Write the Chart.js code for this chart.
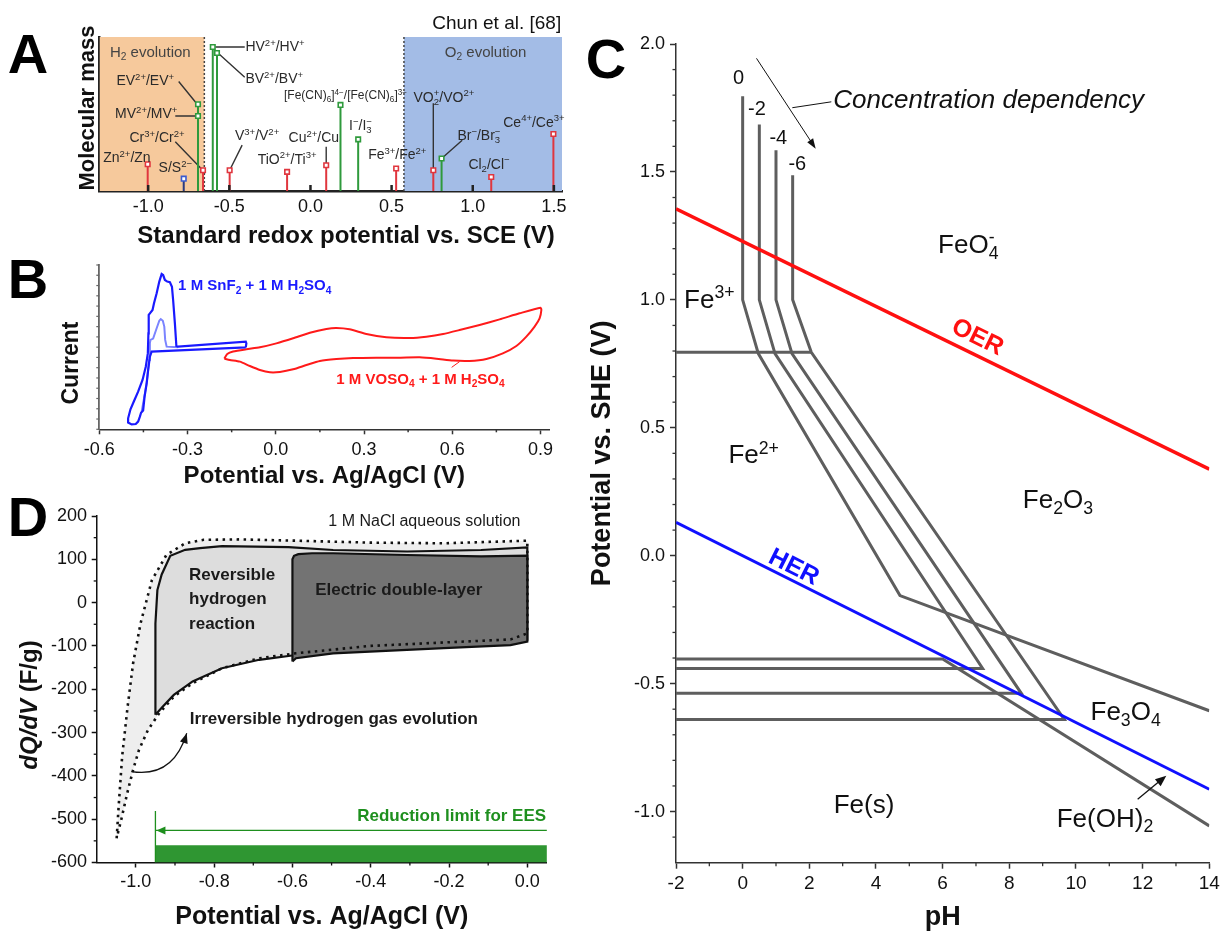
<!DOCTYPE html>
<html>
<head>
<meta charset="utf-8">
<title>Redox windows</title>
<script src="https://cdn.jsdelivr.net/npm/chart.js@4.4.1/dist/chart.umd.min.js"></script>
<style>
  html, body { margin: 0; padding: 0; background: #fff; overflow: hidden; }
  #page { position: relative; width: 1221px; height: 931px; }
  #page canvas { position: absolute; }
</style>
</head>
<body>
<div id="page">
  <canvas id="chartA" width="580" height="255" style="left:0;top:0"></canvas>
  <canvas id="chartB" width="580" height="235" style="left:0;top:255px"></canvas>
  <canvas id="chartD" width="580" height="441" style="left:0;top:490px"></canvas>
  <canvas id="chartC" width="641" height="931" style="left:580px;top:0"></canvas>
</div>
<script>
const FONT = "'Liberation Sans', Arial, Helvetica, sans-serif";
Chart.defaults.font.family = FONT;
Chart.defaults.color = '#111';

// ---- Panel A : redox couples vs molecular mass ----
const aTicks = [-1.0, -0.5, 0.0, 0.5, 1.0, 1.5];
const aH2Zone = [-1.3, -0.654];
const aO2Zone = [0.576, 1.55];
const aZoneMass = [0, 100];
const aRedV = [-1.003, -0.662, -0.498, -0.144, 0.097, 0.528, 0.757, 1.114, 1.497];
const aRedMass = [17.4, 13.5, 13.5, 12.4, 16.7, 14.6, 13.5, 9.1, 37.0];
const aGreenV = [-0.693, -0.693, -0.602, -0.576, 0.185, 0.294, 0.808];
const aGreenMass = [48.7, 56.3, 93.5, 89.6, 55.9, 33.5, 21.1];
const aBlueV = [-0.781];
const aBlueMass = [8.0];

// ---- Panel B : cyclic voltammograms ----
const bTicks = [-0.6, -0.3, 0.0, 0.3, 0.6, 0.9];
const bMinor = [-0.45, -0.15, 0.15, 0.45, 0.75];
const bCurrentTicks = [0, 6.25, 12.5, 18.75, 25, 31.25, 37.5, 43.75, 50, 56.25, 62.5, 68.75, 75, 81.25, 87.5, 93.75, 100];
const bSnV = [-0.102, -0.422, -0.428, -0.434, -0.439, -0.446, -0.451, -0.458, -0.462, -0.468, -0.476, -0.490, -0.502, -0.502, -0.494, -0.483, -0.468, -0.453, -0.442, -0.435, -0.433, -0.432, -0.426, -0.419, -0.414, -0.405, -0.396, -0.388, -0.383, -0.377, -0.369, -0.360, -0.353, -0.349, -0.343, -0.338, -0.332, -0.102, -0.100, -0.102];
const bSnI = [49.9, 47.3, 44.2, 36.1, 28.0, 19.9, 11.4, 10.1, 7.7, 4.7, 3.2, 3.0, 4.1, 6.7, 12.2, 16.8, 22.9, 30.0, 38.1, 46.2, 58.4, 69.6, 71.0, 72.6, 76.7, 82.8, 89.9, 94.5, 93.9, 90.9, 89.9, 89.5, 86.8, 78.7, 64.5, 50.7, 50.3, 53.3, 52.3, 49.9];
const bSn2V = [-0.456, -0.449, -0.439, -0.430, -0.428, -0.426, -0.417, -0.405, -0.396, -0.391, -0.384, -0.379, -0.376, -0.371, -0.332];
const bSn2I = [10.8, 17.8, 28.0, 42.2, 52.3, 54.4, 55.2, 61.5, 66.1, 67.1, 66.1, 62.5, 54.4, 50.3, 49.9];
const bVoV = [-0.175, -0.165, -0.145, -0.100, -0.054, 0.002, 0.059, 0.116, 0.172, 0.206, 0.251, 0.308, 0.376, 0.455, 0.512, 0.569, 0.625, 0.693, 0.761, 0.829, 0.900, 0.903, 0.897, 0.880, 0.852, 0.818, 0.772, 0.716, 0.659, 0.603, 0.546, 0.489, 0.421, 0.342, 0.263, 0.206, 0.150, 0.104, 0.059, 0.014, -0.020, -0.054, -0.088, -0.122, -0.156, -0.175];
const bVoI = [43.0, 45.8, 47.3, 48.7, 49.9, 52.3, 55.4, 58.8, 61.1, 61.7, 60.9, 58.0, 56.0, 55.6, 56.4, 58.0, 60.4, 63.5, 66.9, 70.6, 74.0, 72.6, 67.5, 62.5, 56.4, 50.7, 46.2, 42.8, 41.6, 41.8, 43.0, 43.8, 43.6, 43.6, 43.4, 42.8, 41.6, 39.1, 36.5, 34.9, 34.7, 36.1, 38.5, 41.2, 42.2, 43.0];

// ---- Panel C : Pourbaix diagram of iron ----
const cTicksX = [-2, 0, 2, 4, 6, 8, 10, 12, 14];
const cMinorX = [-1, 1, 3, 5, 7, 9, 11, 13];
const cTicksY = [-1.0, -0.5, 0.0, 0.5, 1.0, 1.5, 2.0];
const cMinorY = [-1.1, -0.9, -0.8, -0.7, -0.6, -0.4, -0.3, -0.2, -0.1, 0.1, 0.2, 0.3, 0.4, 0.6, 0.7, 0.8, 0.9, 1.1, 1.2, 1.3, 1.4, 1.6, 1.7, 1.8, 1.9];
const cOerPH = [-2, 14], cOerE = [1.356, 0.338];
const cHerPH = [-2, 14], cHerE = [0.130, -0.913];
const cConc0PH = [0, 0, 0.47, 4.72, 14], cConc0E = [1.796, 1.0, 0.79, -0.156, -0.606];
const cConc2PH = [0.5, 0.5, 0.97, 7.2, -2], cConc2E = [1.685, 1.0, 0.79, -0.441, -0.441];
const cConc4PH = [1.0, 1.0, 1.48, 8.36, -2], cConc4E = [1.585, 1.0, 0.79, -0.538, -0.538];
const cConc6PH = [1.5, 1.5, 2.06, 9.65, -2], cConc6E = [1.487, 1.0, 0.795, -0.640, -0.640];
const cFe32PH = [-2, 2.06], cFe32E = [0.795, 0.795];
const cFeSolidPH = [-2, 6.0, 14], cFeSolidE = [-0.404, -0.404, -1.056];

// ---- Panel D : capacitance of carbon electrode in NaCl ----
const dTicksX = [-1.0, -0.8, -0.6, -0.4, -0.2, 0.0];
const dMinorX = [-0.9, -0.7, -0.5, -0.3, -0.1];
const dTicksY = [-600, -500, -400, -300, -200, -100, 0, 100, 200];
const dMinorY = [-550, -450, -350, -250, -150, -50, 50, 150];
const dOuterV = [-1.049, -1.044, -1.035, -1.021, -1.007, -0.988, -0.959, -0.922, -0.874, -0.827, -0.733, -0.591, -0.402, -0.213, 0.0, 0.0, -0.043, -0.213, -0.402, -0.591, -0.685, -0.780, -0.855, -0.903, -0.940, -0.969, -0.992, -1.007, -1.022, -1.037, -1.049];
const dOuterQ = [-544, -471, -355, -240, -140, -48, 52, 110, 137, 145, 146, 143, 138.5, 137, 143, -71, -85, -92, -100, -117, -128.5, -151.5, -186, -217, -255, -294, -340, -386, -440, -500, -544];
const dRevV = [-0.950, -0.950, -0.945, -0.934, -0.912, -0.874, -0.836, -0.78, -0.61, -0.496, -0.307, -0.118, 0.0, 0.0, -0.043, -0.213, -0.402, -0.591, -0.685, -0.78, -0.855, -0.903, -0.931, -0.950];
const dRevQ = [-259, -48, 29, 65, 108, 122, 126, 130.5, 128, 121.5, 118, 121.5, 127.5, -86, -95, -101.5, -108, -121, -132, -151.5, -182, -213, -240, -259];
const dEdlV = [-0.600, -0.600, -0.596, -0.585, -0.55, -0.496, -0.307, -0.118, 0.0, 0.0, -0.043, -0.213, -0.402, -0.496, -0.591, -0.600];
const dEdlQ = [-136, 100, 108, 112, 114, 114, 110, 107, 108.5, -90, -98, -105, -113, -117, -128.5, -136];
const dLimitBarV = [-0.95, 0.05], dLimitBarQ = [-600, -560];
const dLimitLineV = [-0.95, -0.95], dLimitLineQ = [-600, -481];
const dLimitArrowV = [0.05, -0.95], dLimitArrowQ = [-526, -526];

// ---------- helpers ----------
function zip(xs, ys) { return xs.map((x, i) => ({ x: x, y: ys[i] })); }
function box(xr, yr) {
    return [{x: xr[0], y: yr[0]}, {x: xr[1], y: yr[0]}, {x: xr[1], y: yr[1]}, {x: xr[0], y: yr[1]}, {x: xr[0], y: yr[0]}];
}
function stems(xs, ys) {
    const d = [];
    xs.forEach((x, i) => d.push({x: x, y: 0}, {x: x, y: ys[i]}, {x: x, y: null}));
    return d;
}
function segments(list) {
    const d = [];
    list.forEach(s => d.push({x: s[0], y: s[1]}, {x: s[2], y: s[3]}, {x: s[2], y: null}));
    return d;
}
function line(data, color, width, extra) {
    return Object.assign({
        data: data, showLine: true, borderColor: color, borderWidth: width,
        pointRadius: 0, pointHoverRadius: 0, fill: false, tension: 0, spanGaps: false
    }, extra || {});
}

function axis(o) {
    return {
        type: 'linear', position: o.pos, min: o.min, max: o.max,
        afterBuildTicks: s => { s.ticks = o.ticks.map(v => ({ value: v })); },
        afterFit: s => {
            if (o.pos === 'bottom') { s.height = o.size; s.paddingLeft = 0; s.paddingRight = 0; }
            else { s.width = o.size; s.paddingTop = 0; s.paddingBottom = 0; }
        },
        border: { display: true, color: o.color || '#222', width: o.bw || 1.5 },
        grid: { display: true, drawOnChartArea: false, drawTicks: !!o.tickLen, tickLength: o.tickLen || 0,
                tickColor: o.color || '#222', tickWidth: o.bw || 1.5 },
        ticks: { display: !!o.fmt, autoSkip: false, maxRotation: 0, padding: o.pad || 4, color: '#111',
                 font: { size: o.fs || 18 }, callback: o.fmt || (v => v) },
        title: o.title ? { display: true, text: o.title, color: '#111',
                           font: { size: o.tfs, weight: 'bold', lineHeight: 1 }, padding: o.tpad } : { display: false }
    };
}

function baseOptions(pad, x, y) {
    return {
        responsive: false, animation: false, events: [],
        layout: { padding: pad },
        plugins: { legend: { display: false }, tooltip: { enabled: false } },
        scales: { x: x, y: y }
    };
}

// text with ^{sup} and _{sub}
function parseRich(str) {
    const out = [];
    let buf = '', i = 0;
    while (i < str.length) {
        const c = str[i];
        if (c === '^' || c === '_') {
            if (buf) { out.push({ t: buf, m: 'n' }); buf = ''; }
            let t;
            if (str[i + 1] === '{') { const j = str.indexOf('}', i + 2); t = str.slice(i + 2, j); i = j + 1; }
            else { t = str[i + 1]; i += 2; }
            out.push({ t: t, m: c === '^' ? 'sup' : 'sub' });
        } else { buf += c; i++; }
    }
    if (buf) out.push({ t: buf, m: 'n' });
    return out;
}

function drawRich(ctx, str, x, y, o) {
    const size = o.size || 14;
    const f = s => (o.style || 'normal') + ' ' + (o.weight || 'normal') + ' ' + s + 'px ' + FONT;
    const small = size * 0.68;
    const placed = [];
    let w = 0, prev = null;
    parseRich(str).forEach(s => {
        ctx.font = f(s.m === 'n' ? size : small);
        const sw = ctx.measureText(s.t).width;
        let sx = w;
        if (s.m === 'sup' && prev && prev.m === 'sub') { sx = prev.x; w = Math.max(prev.x + prev.w, sx + sw); }
        else w = sx + sw;
        prev = { t: s.t, m: s.m, x: sx, w: sw };
        placed.push(prev);
    });
    ctx.save();
    ctx.translate(x, y);
    if (o.rotate) ctx.rotate(o.rotate);
    const align = o.align || 'center';
    const x0 = align === 'left' ? 0 : (align === 'right' ? -w : -w / 2);
    ctx.fillStyle = o.color || '#111';
    ctx.textAlign = 'left';
    ctx.textBaseline = 'alphabetic';
    placed.forEach(p => {
        ctx.font = f(p.m === 'n' ? size : small);
        const dy = p.m === 'sup' ? -size * 0.38 : (p.m === 'sub' ? size * 0.22 : 0);
        ctx.fillText(p.t, x0 + p.x, size * 0.36 + dy);
    });
    ctx.restore();
}

function arrow(ctx, x1, y1, x2, y2, color, lw, hl, hw) {
    const a = Math.atan2(y2 - y1, x2 - x1);
    ctx.save();
    ctx.strokeStyle = color; ctx.fillStyle = color; ctx.lineWidth = lw;
    ctx.beginPath(); ctx.moveTo(x1, y1); ctx.lineTo(x2 - Math.cos(a) * hl * 0.7, y2 - Math.sin(a) * hl * 0.7); ctx.stroke();
    arrowHead(ctx, x2, y2, a, hl, hw);
    ctx.restore();
}
function arrowHead(ctx, x, y, a, hl, hw) {
    ctx.beginPath();
    ctx.moveTo(x, y);
    ctx.lineTo(x - hl * Math.cos(a) + hw * Math.sin(a), y - hl * Math.sin(a) - hw * Math.cos(a));
    ctx.lineTo(x - hl * Math.cos(a) - hw * Math.sin(a), y - hl * Math.sin(a) + hw * Math.cos(a));
    ctx.closePath();
    ctx.fill();
}

function minorTicks(chart, id, vals, len, color, width) {
    const s = chart.scales[id], ctx = chart.ctx;
    ctx.save();
    ctx.strokeStyle = color; ctx.lineWidth = width;
    vals.forEach(v => {
        const p = s.getPixelForValue(v);
        ctx.beginPath();
        if (s.isHorizontal()) { ctx.moveTo(p, s.top); ctx.lineTo(p, s.top + len); }
        else { ctx.moveTo(s.right, p); ctx.lineTo(s.right - len, p); }
        ctx.stroke();
    });
    ctx.restore();
}

function letter(ctx, t, x, y) {
    ctx.save();
    ctx.font = "bold 56px 'Liberation Sans Narrow', 'Liberation Sans', Arial, sans-serif";
    ctx.fillStyle = '#000';
    ctx.textAlign = 'center';
    ctx.textBaseline = 'middle';
    ctx.fillText(t, x, y);
    ctx.restore();
}

const fmt1 = v => Number(v).toFixed(1);

// ---------- Panel A ----------
const aCouples = [
    ['Zn^{2+}/Zn', -1.131, 22.2, 'center'],
    ['S/S^{2−}', -0.833, 15.7, 'center'],
    ['Cr^{3+}/Cr^{2+}', -0.946, 35.2, 'center'],
    ['MV^{2+}/MV^{+}', -1.012, 50.4, 'center'],
    ['EV^{2+}/EV^{+}', -1.018, 72.2, 'center'],
    ['HV^{2+}/HV^{+}', -0.401, 93.9, 'left'],
    ['BV^{2+}/BV^{+}', -0.401, 73.3, 'left'],
    ['V^{3+}/V^{2+}', -0.329, 36.3, 'center'],
    ['TiO^{2+}/Ti^{3+}', -0.144, 21.1, 'center'],
    ['Cu^{2+}/Cu', 0.021, 35.2, 'center'],
    ['I^{−}/I_3^{−}', 0.308, 42.8, 'center'],
    ['Fe^{3+}/Fe^{2+}', 0.535, 23.9, 'center'],
    ['VO_2^{+}/VO^{2+}', 0.822, 61.3, 'center'],
    ['Br^{−}/Br_3^{−}', 1.038, 36.3, 'center'],
    ['Cl_2/Cl^{−}', 1.100, 17.8, 'center'],
    ['Ce^{4+}/Ce^{3+}', 1.377, 45.0, 'center']
];
const aLeaders = [
    [-0.812, 71.1, -0.699, 56.5], [-0.833, 48.7, -0.699, 48.7], [-0.833, 32.0, -0.668, 13.9],
    [-0.586, 93.5, -0.405, 93.5], [-0.565, 89.1, -0.405, 73.9], [-0.498, 13.5, -0.421, 29.8],
    [0.097, 28.7, 0.097, 17.4], [0.757, 57.0, 0.757, 14.6], [0.808, 21.1, 0.935, 33.0]
];

const panelA = {
    id: 'panelA',
    afterDraw(chart) {
        const ctx = chart.ctx, xs = chart.scales.x, ys = chart.scales.y;
        minorTicks(chart, 'x', aTicks, -6, '#222', 2.5);
        const P = (v, m) => [xs.getPixelForValue(v), ys.getPixelForValue(m)];
        aCouples.forEach(c => {
            const p = P(c[1], c[2]);
            drawRich(ctx, c[0], p[0], p[1], { size: 14, align: c[3], color: '#2a2a2a' });
        });
        let p = P(0.216, 62.4);
        drawRich(ctx, '[Fe(CN)_6]^{4−}/[Fe(CN)_6]^{3−}', p[0], p[1], { size: 12, color: '#2a2a2a' });
        p = P(-0.987, 90.7);
        drawRich(ctx, 'H_2 evolution', p[0], p[1], { size: 15, color: '#444' });
        p = P(1.079, 90.7);
        drawRich(ctx, 'O_2 evolution', p[0], p[1], { size: 15, color: '#444' });
        p = P(1.545, 109.5);
        drawRich(ctx, 'Chun et al. [68]', p[0], p[1], { size: 19, align: 'right', color: '#111' });
        // axis titles
        drawRich(ctx, 'Standard redox potential vs. SCE (V)', 346, 234, { size: 24, weight: 'bold' });
        drawRich(ctx, 'Molecular mass', 86, 108, { size: 22, weight: 'bold', rotate: -Math.PI / 2 });
        letter(ctx, 'A', 28, 58);
    }
};

new Chart(document.getElementById('chartA'), {
    type: 'scatter',
    data: {
        datasets: [
            line(box(aH2Zone, aZoneMass), 'rgba(0,0,0,0)', 0, { fill: 'shape', backgroundColor: '#f6c99c', order: 20 }),
            line(box(aO2Zone, aZoneMass), 'rgba(0,0,0,0)', 0, { fill: 'shape', backgroundColor: '#a3bce6', order: 20 }),
            line(segments([[aH2Zone[1], 0, aH2Zone[1], 100], [aO2Zone[0], 0, aO2Zone[0], 100]]), '#444', 1.5, { borderDash: [2, 2], order: 15 }),
            line(segments(aLeaders), '#333', 1.4, { order: 12 }),
            line(stems(aRedV, aRedMass), '#e0363e', 2, { order: 10 }),
            line(stems(aGreenV, aGreenMass), '#2f9a3c', 2, { order: 10 }),
            line(stems(aBlueV, aBlueMass), '#2a3a80', 2, { order: 10 }),
            { data: zip(aRedV, aRedMass), pointStyle: 'rect', pointRadius: 3.2, pointBorderWidth: 1.6,
              pointBackgroundColor: '#fff', pointBorderColor: '#e0363e', order: 5 },
            { data: zip(aGreenV, aGreenMass), pointStyle: 'rect', pointRadius: 3.2, pointBorderWidth: 1.6,
              pointBackgroundColor: '#fff', pointBorderColor: '#2f9a3c', order: 5 },
            { data: zip(aBlueV, aBlueMass), pointStyle: 'rect', pointRadius: 3.2, pointBorderWidth: 1.6,
              pointBackgroundColor: '#fff', pointBorderColor: '#3a5ad0', order: 5 }
        ]
    },
    options: baseOptions({ left: 0, top: 37, right: 18, bottom: 0 },
        axis({ pos: 'bottom', min: -1.3, max: 1.55, ticks: aTicks, size: 64, pad: 5, bw: 2.5, fmt: fmt1 }),
        axis({ pos: 'left', min: 0, max: 100, ticks: [], size: 99.5, bw: 2.5 })),
    plugins: [panelA]
});

// ---------- Panel B ----------
const panelB = {
    id: 'panelB',
    afterDraw(chart) {
        const ctx = chart.ctx, xs = chart.scales.x, ys = chart.scales.y;
        minorTicks(chart, 'x', bMinor, 3, '#333', 1.5);
        minorTicks(chart, 'y', bCurrentTicks, 3, '#666', 1.2);
        drawRich(ctx, '1 M SnF_2 + 1 M H_2SO_4', xs.getPixelForValue(-0.332), ys.getPixelForValue(87.8),
                 { size: 15, weight: 'bold', align: 'left', color: '#1a1aff' });
        drawRich(ctx, '1 M VOSO_4 + 1 M H_2SO_4', xs.getPixelForValue(0.206), ys.getPixelForValue(31.0),
                 { size: 15, weight: 'bold', align: 'left', color: '#ff1a1a' });
        ctx.save();
        ctx.strokeStyle = '#ff1a1a'; ctx.lineWidth = 1;
        ctx.beginPath();
        ctx.moveTo(xs.getPixelForValue(0.598), ys.getPixelForValue(37.7));
        ctx.lineTo(xs.getPixelForValue(0.625), ys.getPixelForValue(41.2));
        ctx.stroke();
        ctx.restore();
        drawRich(ctx, 'Current', 70, 108, { size: 23, weight: 'bold', rotate: -Math.PI / 2 });
        letter(ctx, 'B', 28, 28);
    }
};

new Chart(document.getElementById('chartB'), {
    type: 'scatter',
    data: {
        datasets: [
            line(zip(bVoV, bVoI), '#ff1a1a', 2, { tension: 0.2, order: 3 }),
            line(zip(bSn2V, bSn2I), '#7b84ff', 2, { order: 2 }),
            line(zip(bSnV, bSnI), '#1a1aff', 2.2, { order: 1 })
        ]
    },
    options: baseOptions({ left: 0, top: 10, right: 30.7, bottom: 0 },
        axis({ pos: 'bottom', min: -0.6, max: 0.93, ticks: bTicks, size: 60.7, pad: 4.9, tickLen: 5, bw: 1.5,
               color: '#333', fmt: fmt1, title: 'Potential vs. Ag/AgCl (V)', tfs: 24, tpad: { top: 0, bottom: 1.3 } }),
        axis({ pos: 'left', min: 0, max: 100, ticks: [], size: 99.3, bw: 1.8, color: '#666' })),
    plugins: [panelB]
});

// ---------- Panel C ----------
const cRegions = [
    ['0', -0.12, 1.872, 20], ['-2', 0.43, 1.752, 20], ['-4', 1.07, 1.637, 20], ['-6', 1.64, 1.535, 20],
    ['FeO_4^{-}', 6.77, 1.219, 26], ['Fe^{3+}', -1.0, 1.004, 26], ['Fe^{2+}', 0.33, 0.397, 26],
    ['Fe_2O_3', 9.46, 0.222, 26], ['Fe_3O_4', 11.49, -0.606, 26], ['Fe(s)', 3.64, -0.971, 26],
    ['Fe(OH)_2', 10.87, -1.023, 26]
];

const panelC = {
    id: 'panelC',
    afterDraw(chart) {
        const ctx = chart.ctx, xs = chart.scales.x, ys = chart.scales.y;
        const X = v => xs.getPixelForValue(v), Y = v => ys.getPixelForValue(v);
        minorTicks(chart, 'x', cMinorX, 3.5, '#333', 1.3);
        minorTicks(chart, 'y', cMinorY, 3.5, '#333', 1.3);
        cRegions.forEach(r => drawRich(ctx, r[0], X(r[1]), Y(r[2]), { size: r[3], color: '#111' }));
        drawRich(ctx, 'Concentration dependency', X(2.72), Y(1.787), { size: 26, style: 'italic', align: 'left' });
        ctx.save();
        ctx.strokeStyle = '#111'; ctx.lineWidth = 1;
        ctx.beginPath(); ctx.moveTo(X(1.49), Y(1.751)); ctx.lineTo(X(2.66), Y(1.774)); ctx.stroke();
        ctx.restore();
        arrow(ctx, X(0.415), Y(1.944), X(2.19), Y(1.591), '#111', 1, 10, 3.5);
        arrow(ctx, X(11.85), Y(-0.952), X(12.71), Y(-0.860), '#111', 1.3, 11, 4.5);
        const oer = Math.atan2(Y(cOerE[1]) - Y(cOerE[0]), X(cOerPH[1]) - X(cOerPH[0]));
        drawRich(ctx, 'OER', X(7.07), Y(0.860), { size: 25, weight: 'bold', color: '#ff1010', rotate: oer });
        const her = Math.atan2(Y(cHerE[1]) - Y(cHerE[0]), X(cHerPH[1]) - X(cHerPH[0]));
        drawRich(ctx, 'HER', X(1.56), Y(-0.039), { size: 25, weight: 'bold', color: '#1010ff', rotate: her });
        letter(ctx, 'C', 26, 63);
    }
};

const grayLine = '#5e5e5e';
new Chart(document.getElementById('chartC'), {
    type: 'scatter',
    data: {
        datasets: [
            line(zip(cFe32PH, cFe32E), grayLine, 3, { order: 5 }),
            line(zip(cFeSolidPH, cFeSolidE), grayLine, 3, { order: 5 }),
            line(zip(cConc0PH, cConc0E), grayLine, 3, { order: 5 }),
            line(zip(cConc2PH, cConc2E), grayLine, 3, { order: 5 }),
            line(zip(cConc4PH, cConc4E), grayLine, 3, { order: 5 }),
            line(zip(cConc6PH, cConc6E), grayLine, 3, { order: 5 }),
            line(zip(cOerPH, cOerE), '#ff1010', 3.5, { order: 1 }),
            line(zip(cHerPH, cHerE), '#1010ff', 3, { order: 1 })
        ]
    },
    options: baseOptions({ left: 0, top: 44, right: 11.7, bottom: 0 },
        axis({ pos: 'bottom', min: -2, max: 14, ticks: cTicksX, size: 68.3, pad: 3.2, tickLen: 6, bw: 1.5,
               color: '#333', fs: 19, fmt: v => String(v), title: 'pH', tfs: 27, tpad: { top: 0, bottom: 0 } }),
        axis({ pos: 'left', min: -1.2, max: 2.0, ticks: cTicksY, size: 96, pad: 5, tickLen: 6, bw: 1.5,
               color: '#333', fs: 18, fmt: fmt1, title: 'Potential vs. SHE (V)', tfs: 27, tpad: { top: 9.5, bottom: 0 } })),
    plugins: [panelC]
});

// ---------- Panel D ----------
const dNotes = [
    ['1 M NaCl aqueous solution', -0.263, 190.8, 'center', 'normal', 16],
    ['Reversible', -0.864, 66, 'left', 'bold', 17],
    ['hydrogen', -0.864, 10, 'left', 'bold', 17],
    ['reaction', -0.864, -46.4, 'left', 'bold', 17],
    ['Electric double-layer', -0.542, 30.8, 'left', 'bold', 17],
    ['Irreversible hydrogen gas evolution', -0.862, -265.7, 'left', 'bold', 17]
];

const panelD = {
    id: 'panelD',
    afterDraw(chart) {
        const ctx = chart.ctx, xs = chart.scales.x, ys = chart.scales.y;
        const X = v => xs.getPixelForValue(v), Y = v => ys.getPixelForValue(v);
        minorTicks(chart, 'x', dMinorX, 3, '#111', 1.3);
        minorTicks(chart, 'y', dMinorY, 3, '#111', 1.3);
        dNotes.forEach(n => drawRich(ctx, n[0], X(n[1]), Y(n[2]), { size: n[5], weight: n[4], align: n[3], color: '#1a1a1a' }));
        drawRich(ctx, 'Reduction limit for EES', X(0.048), Y(-490), { size: 17, weight: 'bold', align: 'right', color: '#1e8f1e' });
        // arrow head of the reduction limit
        ctx.save();
        ctx.fillStyle = '#1e8f1e';
        arrowHead(ctx, X(dLimitArrowV[1]) + 1, Y(dLimitArrowQ[1]), Math.PI, 9, 4);
        ctx.restore();
        // curved arrow towards the gas evolution label
        const sx = X(-1.011), sy = Y(-390), cx = X(-0.905), cy = Y(-405), ex = X(-0.870), ey = Y(-301.5);
        ctx.save();
        ctx.strokeStyle = '#111'; ctx.fillStyle = '#111'; ctx.lineWidth = 1.2;
        ctx.beginPath(); ctx.moveTo(sx, sy); ctx.quadraticCurveTo(cx, cy, ex, ey); ctx.stroke();
        arrowHead(ctx, ex, ey, Math.atan2(ey - cy, ex - cx), 10, 4);
        ctx.restore();
        // y title with italic dQ/dV
        ctx.save();
        ctx.translate(30, 215);
        ctx.rotate(-Math.PI / 2);
        ctx.fillStyle = '#111';
        ctx.textBaseline = 'middle';
        ctx.font = 'italic bold 24px ' + FONT;
        const w1 = ctx.measureText('dQ/dV').width;
        ctx.font = 'bold 24px ' + FONT;
        const w2 = ctx.measureText(' (F/g)').width;
        ctx.font = 'italic bold 24px ' + FONT;
        ctx.fillText('dQ/dV', -(w1 + w2) / 2, 0);
        ctx.font = 'bold 24px ' + FONT;
        ctx.fillText(' (F/g)', -(w1 + w2) / 2 + w1, 0);
        ctx.restore();
        letter(ctx, 'D', 28, 31);
    }
};

new Chart(document.getElementById('chartD'), {
    type: 'scatter',
    data: {
        datasets: [
            line(zip(dOuterV, dOuterQ), 'rgba(0,0,0,0)', 0, { fill: 'shape', backgroundColor: '#eeeeee', order: 9 }),
            line(zip(dRevV, dRevQ), '#111', 2.2, { fill: 'shape', backgroundColor: '#dddddd', order: 8 }),
            line(zip(dEdlV, dEdlQ), '#111', 2.2, { fill: 'shape', backgroundColor: '#737373', order: 7 }),
            line(zip(dOuterV, dOuterQ), '#111', 2.6, { borderDash: [2.5, 4.5], order: 6 }),
            line(box(dLimitBarV, dLimitBarQ), 'rgba(0,0,0,0)', 0, { fill: 'shape', backgroundColor: '#2f9632', order: 5 }),
            line(zip(dLimitLineV, dLimitLineQ), '#1e8f1e', 1.3, { order: 4 }),
            line(zip(dLimitArrowV, dLimitArrowQ), '#1e8f1e', 1.3, { order: 4 })
        ]
    },
    options: baseOptions({ left: 0, top: 26, right: 33.1, bottom: 0 },
        axis({ pos: 'bottom', min: -1.1, max: 0.05, ticks: dTicksX, size: 68.5, pad: 3.4, tickLen: 5, bw: 1.5,
               color: '#111', fmt: fmt1, title: 'Potential vs. Ag/AgCl (V)', tfs: 25, tpad: { top: 0, bottom: 1.8 } }),
        axis({ pos: 'left', min: -600, max: 200, ticks: dTicksY, size: 96.7, pad: 4.7, tickLen: 5, bw: 1.5,
               color: '#111', fmt: v => String(v) })),
    plugins: [panelD]
});
</script>
</body>
</html>
